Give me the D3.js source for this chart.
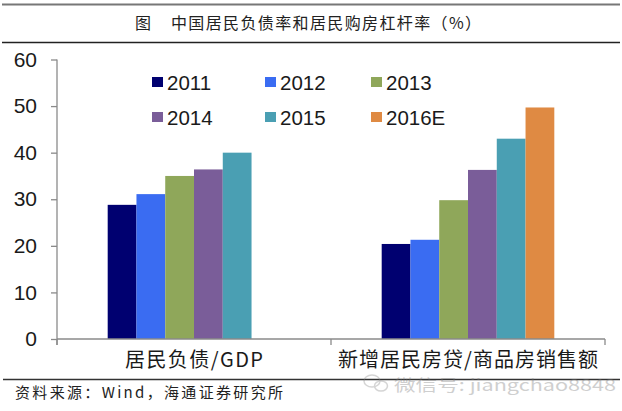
<!DOCTYPE html>
<html><head><meta charset="utf-8">
<script src="https://cdn.jsdelivr.net/npm/d3@7"></script>
<style>body{margin:0;background:#fff}svg{display:block}</style>
</head><body>
<script>
const categories = ["居民负债/GDP", "新增居民房贷/商品房销售额"];
const seriesNames = ["2011", "2012", "2013", "2014", "2015", "2016E"];
const values2011 = [28.8, 20.4];
const values2012 = [31.1, 21.3];
const values2013 = [35.0, 29.8];
const values2014 = [36.4, 36.3];
const values2015 = [40.0, 43.0];
const values2016E = [null, 49.7];
const seriesColors = ["#000070", "#3a6cf2", "#8fa75a", "#7a5d99", "#4a9fb3", "#df8a43"];
const yTicks = [0, 10, 20, 30, 40, 50, 60];
const titleText = "中国居民负债率和居民购房杠杆率（%）";
const sourceText = "资料来源：Wind，海通证券研究所";

const seriesValues = [values2011, values2012, values2013, values2014, values2015, values2016E];
const W = 622, H = 411;
const svg = d3.select("body").append("svg").attr("width", W).attr("height", H);
svg.append("rect").attr("width", W).attr("height", H).attr("fill", "#fff");

// header lines and title
svg.append("line").attr("x1", 2).attr("x2", 620).attr("y1", 4.5).attr("y2", 4.5).attr("stroke", "#777").attr("stroke-width", 2);
svg.append("line").attr("x1", 2).attr("x2", 620).attr("y1", 42.5).attr("y2", 42.5).attr("stroke", "#222").attr("stroke-width", 1.5);
svg.append("text").attr("x", 135).attr("y", 29).text("图")
  .attr("font-family", "Noto Sans CJK SC").attr("font-size", 16).attr("fill", "#222");
svg.append("text").attr("x", 171).attr("y", 29).text(titleText)
  .attr("font-family", "Noto Sans CJK SC").attr("font-size", 16).attr("fill", "#222")
  .attr("textLength", 310).attr("lengthAdjust", "spacing");

const x0 = d3.scaleBand().domain(categories).range([57, 605]).paddingInner(0.37).paddingOuter(0.185);
const x1 = d3.scaleBand().domain(seriesNames).range([0, x0.bandwidth()]);
const y = d3.scaleLinear().domain([0, 60]).range([339, 59.5]);

// bars
seriesNames.forEach((s, si) => {
  categories.forEach((c, ci) => {
    const v = seriesValues[si][ci];
    if (v == null) return;
    svg.append("rect")
      .attr("x", x0(c) + x1(s))
      .attr("y", y(v))
      .attr("width", x1.bandwidth())
      .attr("height", y(0) - y(v))
      .attr("fill", seriesColors[si]);
  });
});

// y axis
const yAxis = svg.append("g").attr("transform", "translate(57,0)")
  .call(d3.axisLeft(y).tickValues(yTicks).tickSize(6).tickPadding(14).tickFormat(d3.format("d")));
yAxis.select(".domain").attr("stroke", "#8a8a8a").attr("stroke-width", 1.3).attr("d", "M0,59.5V345");
yAxis.selectAll(".tick line").attr("stroke", "#8a8a8a").attr("stroke-width", 1.3);
yAxis.selectAll(".tick text").attr("font-family", "Liberation Sans, Arial").attr("font-size", 21).attr("fill", "#1a1a1a");

// x axis
const xg = svg.append("g");
xg.append("line").attr("x1", 57).attr("x2", 605).attr("y1", y(0)).attr("y2", y(0)).attr("stroke", "#8a8a8a").attr("stroke-width", 1.3);
const boundaries = [x0.range()[0], (x0(categories[0]) + x0.bandwidth() + x0(categories[1])) / 2, x0.range()[1]];
boundaries.forEach(b => {
  xg.append("line").attr("x1", b).attr("x2", b).attr("y1", y(0)).attr("y2", y(0) + 6).attr("stroke", "#8a8a8a").attr("stroke-width", 1.3);
});
const catWidths = [138, 260];
categories.forEach((c, i) => {
  const cx = x0(c) + x0.bandwidth() / 2;
  xg.append("text").attr("x", cx - catWidths[i] / 2).attr("y", 367).text(c)
    .attr("font-family", "Noto Sans CJK SC").attr("font-size", 20).attr("fill", "#1a1a1a")
    .attr("textLength", catWidths[i]).attr("lengthAdjust", "spacing");
});

// legend
const legCols = [152, 265, 371];
const legRows = [82, 117];
seriesNames.forEach((s, i) => {
  const lx = legCols[i % 3], ly = legRows[Math.floor(i / 3)];
  svg.append("rect").attr("x", lx).attr("y", ly - 5).attr("width", 11).attr("height", 10).attr("fill", seriesColors[i]);
  svg.append("text").attr("x", lx + 15).attr("y", ly + 7.5).text(s)
    .attr("font-family", "Liberation Sans, Arial").attr("font-size", 20.5).attr("fill", "#1a1a1a");
});

// footer
svg.append("line").attr("x1", 3).attr("x2", 620).attr("y1", 379.5).attr("y2", 379.5).attr("stroke", "#333").attr("stroke-width", 1.5);
svg.append("text").attr("x", 15).attr("y", 398).text(sourceText)
  .attr("font-family", "Noto Sans CJK SC").attr("font-size", 15).attr("fill", "#222")
  .attr("textLength", 268).attr("lengthAdjust", "spacing");

// watermark
const wm = svg.append("g").attr("opacity", 0.35);
wm.append("ellipse").attr("cx", 372).attr("cy", 381).attr("rx", 8).attr("ry", 6).attr("fill", "none").attr("stroke", "#888").attr("stroke-width", 1.5);
wm.append("ellipse").attr("cx", 381).attr("cy", 386).attr("rx", 6.5).attr("ry", 5).attr("fill", "none").attr("stroke", "#888").attr("stroke-width", 1.5);
wm.append("text").attr("x", 394).attr("y", 391).text("微信号: jiangchao8848")
  .attr("font-family", "Noto Sans CJK SC").attr("font-size", 16).attr("fill", "#777")
  .attr("textLength", 222).attr("lengthAdjust", "spacingAndGlyphs");
</script>
</body></html>
